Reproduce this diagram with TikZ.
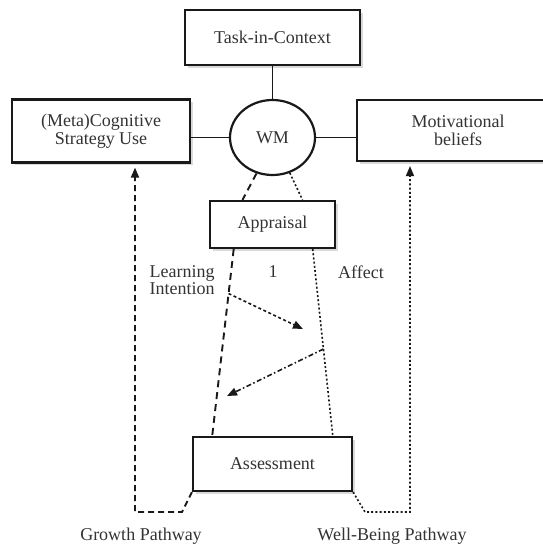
\documentclass[tikz,border=0pt]{standalone}
\usepackage{fontspec}
\setmainfont{Liberation Serif}
\usetikzlibrary{arrows.meta,calc,shapes.geometric,shadows}
\begin{document}
\begin{tikzpicture}[x=1pt,y=-1pt,
  txt/.style={font=\fontsize{18}{17.5}\selectfont, text=black!80},
  box/.style={draw=black!90, line width=2.2pt, fill=white, rectangle, txt, align=center,
    drop shadow={shadow xshift=2.5pt, shadow yshift=-2.5pt, fill=black!15, opacity=1}},
  conn/.style={draw=black!90, line width=1.9pt},
  longdash/.style={conn, dash pattern=on 7pt off 5pt},
  growth/.style={conn, dash pattern=on 6pt off 4pt},
  dots/.style={conn, line width=1.6pt, dash pattern=on 2pt off 2.2pt},
  sdash/.style={conn, line width=1.6pt, dash pattern=on 3pt off 2.5pt},
  ddot/.style={conn, line width=1.6pt, dash pattern=on 5pt off 2.5pt on 1.5pt off 2.5pt},
  tip/.style={-{Triangle[length=10pt,width=8pt]}},
]
\useasboundingbox (0,0) rectangle (542,546);

% boxes
\node[box, minimum width=175pt, minimum height=55pt] (task) at (272.5,37.5) {Task-in-Context};
\node[box, minimum width=178pt, minimum height=63pt] (cog) at (101,131) {(Meta)Cognitive\\Strategy Use};
\node[box, minimum width=202pt, minimum height=61pt] (mot) at (458,130.5) {Motivational\\beliefs};
\node[draw=black!90, line width=2.2pt, fill=white, ellipse, txt, minimum width=85pt, minimum height=75pt, inner sep=0pt] (wm) at (272.5,137.5) {WM};
\node[box, minimum width=125pt, minimum height=47pt] (appr) at (272.5,224.5) {Appraisal};
\node[box, minimum width=159pt, minimum height=54pt] (asm) at (272.5,464) {Assessment};

% solid connectors
\draw[conn] (task.south) -- (wm.north);
\draw[conn] (wm.west) -- (wm.west -| cog.east);
\draw[conn] (wm.east) -- (wm.east -| mot.west);

% WM to appraisal
\draw[longdash] (wm.246) -- ($(appr.north west)!0.264!(appr.north east)$);
\draw[dots] (wm.296) -- ($(appr.north west)!0.736!(appr.north east)$);

% appraisal to assessment
\coordinate (d1) at ($(appr.south west)!0.195!(appr.south east)$);
\coordinate (d2) at ($(asm.north west)!0.126!(asm.north east)$);
\coordinate (e1) at ($(appr.south west)!0.816!(appr.south east)$);
\coordinate (e2) at ($(asm.north west)!0.874!(asm.north east)$);
\draw[longdash] (d1) -- (d2);
\draw[dots] (e1) -- (e2);

% inner arrows
\coordinate (a1s) at ($(d1)!0.238!(d2)$);
\coordinate (a1e) at (303,329);
\coordinate (a2s) at ($(e1)!0.535!(e2)$);
\coordinate (a2e) at (227,396);
\draw[sdash, tip] (a1s) -- (a1e);
\draw[ddot, tip] (a2s) -- (a2e);

% pathways
\coordinate (gc) at (135,512);
\coordinate (wc) at (410,512);
\draw[growth, tip, shorten >=4pt] (asm.south west) -- (182,512) -- (gc) -- (gc |- cog.south);
\draw[dots, tip, shorten >=4pt] (asm.south east) -- (365,512) -- (wc) -- (wc |- mot.south);

% labels
\node[txt, align=left, anchor=west] (li) at (146,280) {Learning\\Intention};
\node[txt] (one) at (273,272) {1};
\node[txt] (aff) at (361,272) {Affect};
\node[txt] (gp) at (141,536) {Growth Pathway};
\node[txt] (wp) at (392,536) {Well-Being Pathway};
\end{tikzpicture}
\end{document}
